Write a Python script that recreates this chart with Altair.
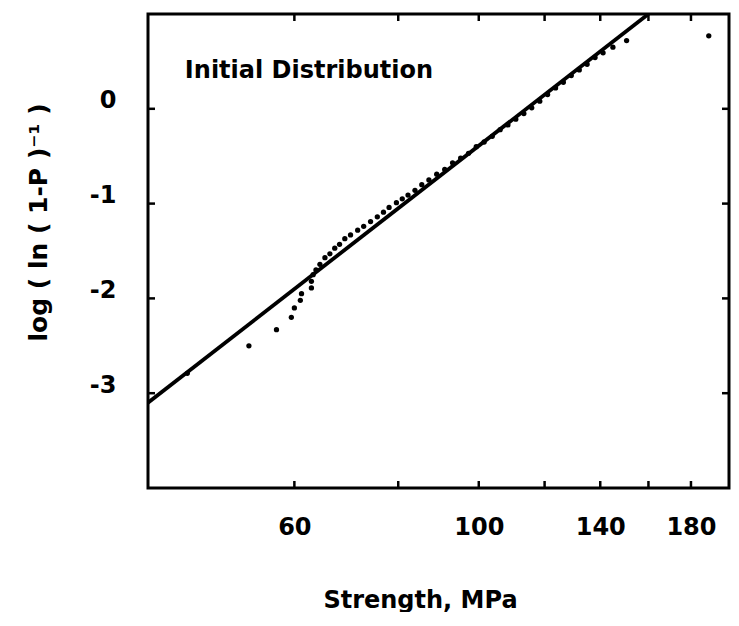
import altair as alt
import pandas as pd

# ---- data ----
strength = [44.6, 52.9, 57.1, 59.5, 60.0, 61.0, 61.2, 62.9, 62.9, 63.2, 63.7, 64.4,
            65.3, 66.2, 67.1, 68.0, 69.0, 70.1, 71.5, 72.7, 74.1, 75.5, 76.8, 78.0,
            79.6, 80.9, 82.2, 83.8, 85.4, 87.1, 89.0, 91.0, 93.0, 95.1, 97.2, 99.3,
            101.5, 103.8, 106.1, 108.4, 110.8, 113.3, 115.8, 118.4, 121.0, 123.7,
            126.4, 129.2, 132.1, 135.0, 138.0, 141.1, 145.0, 150.6, 189.1]
weibull = [-2.79, -2.50, -2.33, -2.20, -2.10, -2.02, -1.95, -1.89, -1.82, -1.75,
           -1.70, -1.64, -1.57, -1.53, -1.47, -1.43, -1.37, -1.33, -1.28, -1.24,
           -1.19, -1.14, -1.09, -1.04, -0.99, -0.95, -0.91, -0.86, -0.80, -0.75,
           -0.69, -0.64, -0.57, -0.52, -0.47, -0.40, -0.35, -0.29, -0.22, -0.17,
           -0.11, -0.05, 0.01, 0.08, 0.15, 0.22, 0.28, 0.35, 0.41, 0.47, 0.54,
           0.59, 0.65, 0.72, 0.77]
fit_x = [40, 160]
fit_y = [-3.10, 1.00]
x_ticks = [60, 80, 100, 120, 140, 160, 180]
x_labels = [60, 100, 140, 180]
y_ticks = [-3, -2, -1, 0]
note_text = ["Initial Distribution"]
note_x = [44.3]
note_y = [0.40]

W, H = 581, 474
FONT = "DejaVu Sans"

pts = pd.DataFrame({"x": strength, "y": weibull})
fit = pd.DataFrame({"x": fit_x, "y": fit_y})
xt = pd.DataFrame({"x": x_ticks})
yt = pd.DataFrame({"y": y_ticks})
note = pd.DataFrame({"x": note_x, "y": note_y, "t": note_text})

xs = alt.Scale(type="log", domain=[40, 200], nice=False)
ys = alt.Scale(domain=[-4, 1], nice=False, zero=False)

xaxis = alt.Axis(values=x_labels, title="Strength, MPa", ticks=False, tickSize=0,
                 domain=False, grid=False, labelPadding=27, labelFont=FONT,
                 labelFontSize=24, labelFontWeight="bold", labelColor="black",
                 titleFont=FONT, titleFontSize=24, titleFontWeight="bold",
                 titleColor="black", titleX=272, titleY=112, titleBaseline="middle",
                 titleAlign="center", labelFlush=False)
yaxis = alt.Axis(values=y_ticks, title="log ( ln ( 1-P )⁻¹ )", ticks=False, tickSize=0,
                 domain=False, grid=False, labelPadding=32, labelFont=FONT,
                 labelFontSize=24, labelFontWeight="bold", labelColor="black",
                 labelOffset=-8, labelExpr="'' + datum.value",
                 titleFont=FONT, titleFontSize=25,
                 titleFontWeight="bold", titleColor="black", titleX=-110,
                 titleY=208, titleAngle=270, titleAlign="center",
                 titleBaseline="middle", labelFlush=False)

X = alt.X("x:Q", scale=xs, axis=xaxis)
Y = alt.Y("y:Q", scale=ys, axis=yaxis)

points = alt.Chart(pts).mark_circle(size=28, color="black", opacity=1).encode(x=X, y=Y)
line = alt.Chart(fit).mark_line(color="black", strokeWidth=3.8, clip=True).encode(x=X, y=Y)
tick_style = dict(color="black", strokeWidth=2.5)
bot = alt.Chart(xt).mark_rule(**tick_style).encode(
    x=X, y=alt.value(H), y2=alt.value(H - 7))
top = alt.Chart(xt).mark_rule(**tick_style).encode(
    x=X, y=alt.value(0), y2=alt.value(7))
left = alt.Chart(yt).mark_rule(**tick_style).encode(
    y=Y, x=alt.value(0), x2=alt.value(7))
right = alt.Chart(yt).mark_rule(**tick_style).encode(
    y=Y, x=alt.value(W), x2=alt.value(W - 7))
label = alt.Chart(note).mark_text(font=FONT, fontSize=24, fontWeight="bold",
                                  color="black", align="left", baseline="middle").encode(
    x=X, y=Y, text="t:N",
)

chart = alt.layer(line, points, bot, top, left, right, label).properties(
    width=W, height=H,
    autosize=alt.AutoSizeParams(type="none"),
    padding={"left": 140, "top": 6, "right": 2, "bottom": 124},
    background="white",
).configure_view(stroke="black", strokeWidth=3)

chart.save("out.html", embed_options={"renderer": "svg", "actions": False})
